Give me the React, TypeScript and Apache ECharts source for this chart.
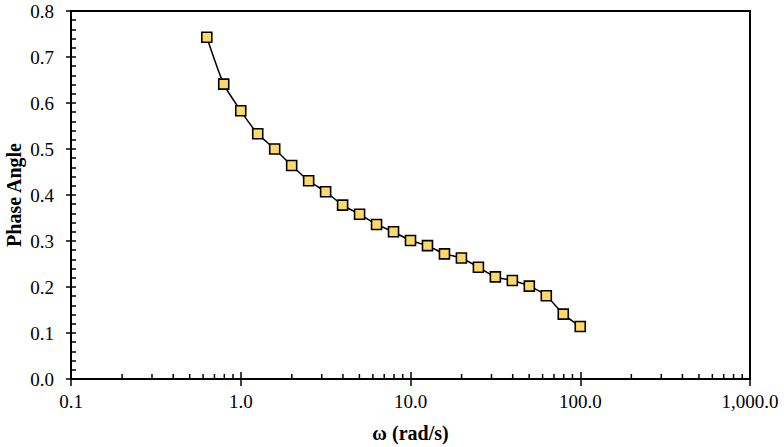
import React, { useEffect, useRef } from "react";
import * as echarts from "echarts";

const omega = [
  0.631, 0.794, 1.0, 1.259, 1.585, 1.995, 2.512, 3.162, 3.981, 5.012, 6.31,
  7.943, 10, 12.59, 15.85, 19.95, 25.12, 31.62, 39.81, 50.12, 63.1, 79.43, 100,
];
const phaseAngle = [
  0.743, 0.641, 0.583, 0.533, 0.5, 0.464, 0.431, 0.407, 0.378, 0.358, 0.336,
  0.32, 0.301, 0.29, 0.272, 0.263, 0.243, 0.222, 0.214, 0.202, 0.181, 0.141,
  0.114,
];
const xDecades = [0.1, 1, 10, 100];
const minorMultipliers = [2, 3, 4, 5, 6, 7, 8, 9];

const FONT = "'Liberation Serif', 'Times New Roman', serif";

export default function App() {
  const ref = useRef<HTMLDivElement>(null);
  useEffect(() => {
    document.body.style.margin = "0";
    if (!ref.current) return;
    const chart = echarts.init(ref.current, undefined, { renderer: "svg" });
    const minorTicks: number[][] = [];
    xDecades.forEach((d) =>
      minorMultipliers.forEach((m) => minorTicks.push([d * m, 0]))
    );
    const fmtX = (v: number) =>
      Number(v).toLocaleString("en-US", {
        minimumFractionDigits: 1,
        maximumFractionDigits: 1,
      });
    const axisLineStyle = { color: "#000", width: 2 };
    const tickStyle = { color: "#000", width: 1.5 };
    chart.setOption({
      animation: false,
      grid: {
        left: 71,
        right: 34,
        top: 11,
        bottom: 68,
        show: true,
        borderColor: "#000",
        borderWidth: 2,
        containLabel: false,
        outerBoundsMode: "none",
      },
      xAxis: [
        {
          type: "log",
          logBase: 10,
          min: 0.1,
          max: 1000,
          position: "bottom",
          axisLine: { onZero: false, lineStyle: axisLineStyle },
          axisTick: { inside: false, length: 7, lineStyle: tickStyle },
          axisLabel: {
            fontFamily: FONT,
            fontSize: 19,
            color: "#000",
            margin: 13,
            formatter: fmtX,
          },
          splitLine: { show: false },
          name: "ω (rad/s)",
          nameLocation: "middle",
          nameGap: 44,
          nameMoveOverlap: false,
          nameTextStyle: {
            fontFamily: FONT,
            fontSize: 20,
            fontWeight: "bold",
            color: "#000",
          },
        },
        {
          type: "log",
          logBase: 10,
          min: 0.1,
          max: 1000,
          position: "bottom",
          offset: 0,
          axisLine: { show: false, onZero: false },
          axisTick: { inside: true, length: 7, lineStyle: tickStyle },
          axisLabel: { show: false },
          splitLine: { show: false },
        },
      ],
      yAxis: [
        {
          type: "value",
          min: 0,
          max: 0.8,
          interval: 0.1,
          position: "left",
          axisLine: { show: true, onZero: false, lineStyle: axisLineStyle },
          axisTick: { show: true, inside: false, length: 5, lineStyle: tickStyle },
          axisLabel: {
            fontFamily: FONT,
            fontSize: 19,
            color: "#000",
            margin: 17,
            formatter: (v: number) => v.toFixed(1),
          },
          splitLine: { show: false },
          name: "Phase Angle",
          nameLocation: "middle",
          nameGap: 47,
          nameMoveOverlap: false,
          nameTextStyle: {
            fontFamily: FONT,
            fontSize: 20,
            fontWeight: "bold",
            color: "#000",
          },
        },
        {
          type: "value",
          min: 0,
          max: 0.8,
          interval: 0.1,
          position: "left",
          offset: 0,
          axisLine: { show: false, onZero: false },
          axisTick: { show: true, inside: true, length: 5, lineStyle: tickStyle },
          minorTick: {
            show: true,
            splitNumber: 5,
            length: 5,
            lineStyle: { color: "#000", width: 1.5 },
          },
          axisLabel: { show: false },
          splitLine: { show: false },
          minorSplitLine: { show: false },
        },
      ],
      series: [
        {
          type: "custom",
          xAxisIndex: 0,
          yAxisIndex: 0,
          silent: true,
          clip: false,
          data: minorTicks,
          renderItem: (_params: any, api: any) => {
            const p = api.coord([api.value(0), 0]);
            return {
              type: "line",
              shape: { x1: p[0], y1: p[1], x2: p[0], y2: p[1] - 5 },
              style: { stroke: "#000", lineWidth: 1.5 },
            };
          },
        },
        {
          type: "line",
          xAxisIndex: 0,
          yAxisIndex: 0,
          data: omega.map((w, i) => [w, phaseAngle[i]]),
          smooth: 0.2,
          symbol: "rect",
          symbolSize: 10,
          lineStyle: { color: "#000", width: 1.5 },
          itemStyle: { color: "#FFD966", borderColor: "#000", borderWidth: 1.6 },
          z: 5,
        },
      ],
    });
    return () => chart.dispose();
  }, []);
  return <div ref={ref} style={{ width: 784, height: 447 }} />;
}
